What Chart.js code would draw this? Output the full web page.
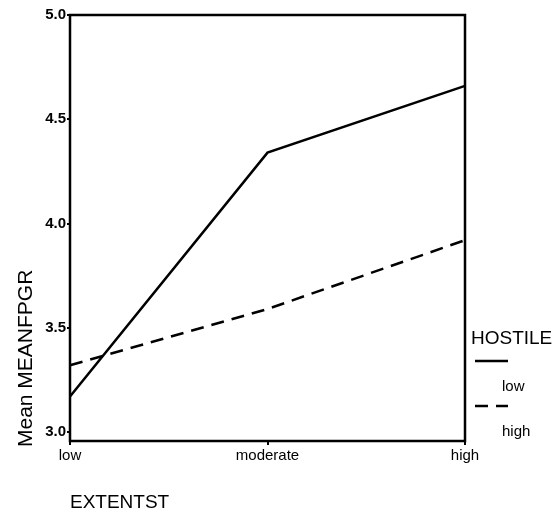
<!DOCTYPE html>
<html>
<head>
<meta charset="utf-8">
<script src="https://cdn.jsdelivr.net/npm/chart.js@4/dist/chart.umd.min.js"></script>
<style>
  html, body { margin: 0; padding: 0; background: #fff; }
  #wrap { width: 555px; height: 513px; }
</style>
</head>
<body>
<div id="wrap"><canvas id="lineChart"></canvas></div>
<script>
const categories = ['low', 'moderate', 'high'];
const hostileLow = [3.17, 4.34, 4.66];
const hostileHigh = [3.32, 3.59, 3.92];
const yTicks = [3.0, 3.5, 4.0, 4.5, 5.0];
const legendTitle = 'HOSTILE';
const xTitle = 'EXTENTST';
const yTitle = 'Mean MEANFPGR';

const FONT = 'Arial, "Liberation Sans", sans-serif';

// box round the plot, axis titles and the legend at the right
const extras = {
    id: 'extras',
    afterDraw(chart) {
        const ctx = chart.ctx;
        const a = chart.chartArea;
        ctx.save();
        ctx.strokeStyle = '#000';
        ctx.lineWidth = 2.5;
        ctx.strokeRect(a.left, a.top, a.right - a.left, a.bottom - a.top);

        ctx.fillStyle = '#000';
        ctx.font = '19px ' + FONT;
        ctx.textBaseline = 'middle';
        ctx.textAlign = 'left';
        ctx.fillText(xTitle, 70, 503);

        ctx.save();
        ctx.translate(26, 447);
        ctx.rotate(-Math.PI / 2);
        ctx.font = '21px ' + FONT;
        ctx.fillText(yTitle, 0, 0);
        ctx.restore();

        ctx.font = '19px ' + FONT;
        ctx.fillText(legendTitle, 471, 339);

        const items = chart.data.datasets;
        const rows = [361, 406];
        items.forEach((ds, i) => {
            ctx.beginPath();
            ctx.lineWidth = 2.5;
            ctx.setLineDash(ds.borderDash || []);
            ctx.moveTo(475, rows[i]);
            ctx.lineTo(508, rows[i]);
            ctx.stroke();
            ctx.setLineDash([]);
            ctx.font = '15px ' + FONT;
            ctx.fillText(ds.label, 502, rows[i] + 26);
        });
        ctx.restore();
    }
};

const ctx = document.getElementById('lineChart').getContext('2d');
new Chart(ctx, {
    type: 'line',
    data: {
        labels: categories,
        datasets: [{
            label: 'low',
            data: hostileLow,
            borderColor: '#000',
            borderWidth: 2.5,
            pointRadius: 0,
            fill: false,
            tension: 0
        }, {
            label: 'high',
            data: hostileHigh,
            borderColor: '#000',
            borderWidth: 2.5,
            borderDash: [13, 8],
            pointRadius: 0,
            fill: false,
            tension: 0
        }]
    },
    options: {
        responsive: true,
        maintainAspectRatio: false,
        animation: false,
        layout: { padding: { top: 15, right: 90, left: 0, bottom: 0 } },
        plugins: {
            legend: { display: false },
            tooltip: { enabled: false }
        },
        scales: {
            x: {
                offset: false,
                border: { display: false },
                grid: { display: true, drawOnChartArea: false, color: '#000', lineWidth: 2, tickLength: 4 },
                ticks: { color: '#000', font: { family: FONT, size: 15 }, padding: 2, maxRotation: 0 },
                afterFit(scale) { scale.height = 72; }
            },
            y: {
                min: 2.957,
                max: 5.0,
                border: { display: false },
                grid: { display: true, drawOnChartArea: false, color: '#000', lineWidth: 2, tickLength: 3 },
                ticks: {
                    color: '#000',
                    font: { family: FONT, size: 15, weight: 'bold' },
                    padding: 1,
                    callback: v => Number(v).toFixed(1)
                },
                afterBuildTicks(scale) { scale.ticks = yTicks.map(v => ({ value: v })); },
                afterFit(scale) { scale.width = 70; }
            }
        }
    },
    plugins: [extras]
});
</script>
</body>
</html>
